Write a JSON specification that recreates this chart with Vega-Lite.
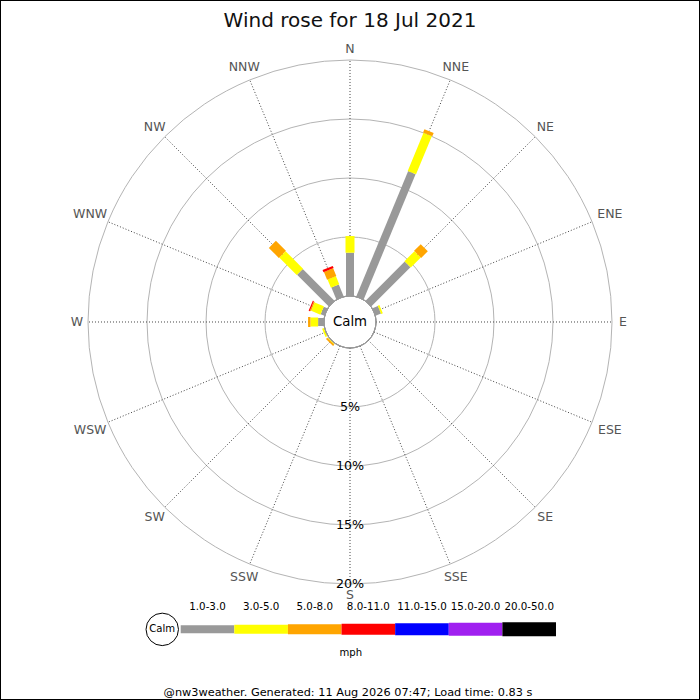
{
  "$schema": "https://vega.github.io/schema/vega-lite/v6.json",
  "width": 700,
  "height": 700,
  "padding": 0,
  "autosize": "none",
  "background": "white",
  "view": {"stroke": "#000000", "strokeWidth": 2},
  "title": {
    "text": "Wind rose for 18 Jul 2021",
    "fontSize": 20,
    "fontWeight": "normal",
    "color": "#111111",
    "anchor": "middle",
    "frame": "group",
    "offset": -47,
    "baseline": "alphabetic"
  },
  "datasets": {
    "dirs": [
      {"dir": "N", "deg": 0}, {"dir": "NNE", "deg": 22.5}, {"dir": "NE", "deg": 45}, {"dir": "ENE", "deg": 67.5},
      {"dir": "E", "deg": 90}, {"dir": "ESE", "deg": 112.5}, {"dir": "SE", "deg": 135}, {"dir": "SSE", "deg": 157.5},
      {"dir": "S", "deg": 180}, {"dir": "SSW", "deg": 202.5}, {"dir": "SW", "deg": 225}, {"dir": "WSW", "deg": 247.5},
      {"dir": "W", "deg": 270}, {"dir": "WNW", "deg": 292.5}, {"dir": "NW", "deg": 315}, {"dir": "NNW", "deg": 337.5}
    ],
    "bars": [
      {"dir": "N", "deg": 0, "band": "1.0-3.0", "pct": 3.67},
      {"dir": "N", "deg": 0, "band": "3.0-5.0", "pct": 1.41},
      {"dir": "NNE", "deg": 22.5, "band": "1.0-3.0", "pct": 11.5},
      {"dir": "NNE", "deg": 22.5, "band": "3.0-5.0", "pct": 3.5},
      {"dir": "NNE", "deg": 22.5, "band": "5.0-8.0", "pct": 0.3},
      {"dir": "NE", "deg": 45, "band": "1.0-3.0", "pct": 4.7},
      {"dir": "NE", "deg": 45, "band": "3.0-5.0", "pct": 1.2},
      {"dir": "NE", "deg": 45, "band": "5.0-8.0", "pct": 0.8},
      {"dir": "ENE", "deg": 67.5, "band": "1.0-3.0", "pct": 0.5},
      {"dir": "ENE", "deg": 67.5, "band": "3.0-5.0", "pct": 0.15},
      {"dir": "SW", "deg": 225, "band": "1.0-3.0", "pct": 0.05},
      {"dir": "SW", "deg": 225, "band": "3.0-5.0", "pct": 0.05},
      {"dir": "SW", "deg": 225, "band": "5.0-8.0", "pct": 0.15},
      {"dir": "WSW", "deg": 247.5, "band": "1.0-3.0", "pct": 0.05},
      {"dir": "WSW", "deg": 247.5, "band": "3.0-5.0", "pct": 0.15},
      {"dir": "W", "deg": 270, "band": "1.0-3.0", "pct": 0.5},
      {"dir": "W", "deg": 270, "band": "3.0-5.0", "pct": 0.65},
      {"dir": "W", "deg": 270, "band": "5.0-8.0", "pct": 0.2},
      {"dir": "WNW", "deg": 292.5, "band": "1.0-3.0", "pct": 0.35},
      {"dir": "WNW", "deg": 292.5, "band": "3.0-5.0", "pct": 0.85},
      {"dir": "WNW", "deg": 292.5, "band": "5.0-8.0", "pct": 0.1},
      {"dir": "WNW", "deg": 292.5, "band": "8.0-11.0", "pct": 0.1},
      {"dir": "NW", "deg": 315, "band": "1.0-3.0", "pct": 3.8},
      {"dir": "NW", "deg": 315, "band": "3.0-5.0", "pct": 2.1},
      {"dir": "NW", "deg": 315, "band": "5.0-8.0", "pct": 1.2},
      {"dir": "NNW", "deg": 337.5, "band": "1.0-3.0", "pct": 1.1},
      {"dir": "NNW", "deg": 337.5, "band": "3.0-5.0", "pct": 0.75},
      {"dir": "NNW", "deg": 337.5, "band": "5.0-8.0", "pct": 0.7},
      {"dir": "NNW", "deg": 337.5, "band": "8.0-11.0", "pct": 0.2}
    ],
    "rings": [
      {"ring": 5, "label": "5%"}, {"ring": 10, "label": "10%"},
      {"ring": 15, "label": "15%"}, {"ring": 20, "label": "20%"}
    ],
    "legend": [
      {"band": "1.0-3.0"}, {"band": "3.0-5.0"}, {"band": "5.0-8.0"}, {"band": "8.0-11.0"},
      {"band": "11.0-15.0"}, {"band": "15.0-20.0"}, {"band": "20.0-50.0"}
    ]
  },
  "layer": [
    {
      "layer": [
        {
          "data": {"name": "rings"},
          "mark": {"type": "arc", "filled": false, "stroke": "#b4b4b4", "strokeWidth": 1, "theta": 0, "theta2": 6.2832},
          "encoding": {
            "x": {"datum": 0, "type": "quantitative", "scale": {"domain": [-29.661, 29.661], "nice": false, "zero": false}},
            "y": {"datum": 0, "type": "quantitative", "scale": {"domain": [-32.034, 27.288], "nice": false, "zero": false}},
            "radius": {"field": "ring", "type": "quantitative", "stack": null, "scale": {"type": "linear", "domain": [0, 20], "range": [26, 262], "zero": false}}
          }
        },
        {
          "data": {"name": "dirs"},
          "transform": [
            {"calculate": "datum.deg*PI/180", "as": "a"},
            {"calculate": "2.2034*sin(datum.a)", "as": "sx"},
            {"calculate": "2.2034*cos(datum.a)", "as": "sy"},
            {"calculate": "22.2034*sin(datum.a)", "as": "ex"},
            {"calculate": "22.2034*cos(datum.a)", "as": "ey"}
          ],
          "mark": {"type": "rule", "color": "#444444", "strokeWidth": 1, "strokeDash": [1, 2]},
          "encoding": {
            "x": {"field": "sx", "type": "quantitative"},
            "y": {"field": "sy", "type": "quantitative"},
            "x2": {"field": "ex"},
            "y2": {"field": "ey"}
          }
        },
        {
          "data": {"name": "bars"},
          "transform": [
            {"stack": "pct", "groupby": ["dir"], "sort": [{"field": "band"}], "as": ["p0", "p1"]},
            {"calculate": "datum.deg*PI/180", "as": "a"},
            {"calculate": "(datum.p0+2.2034)*sin(datum.a)", "as": "bx"},
            {"calculate": "(datum.p0+2.2034)*cos(datum.a)", "as": "by"},
            {"calculate": "(datum.p1+2.2034)*sin(datum.a)", "as": "bx2"},
            {"calculate": "(datum.p1+2.2034)*cos(datum.a)", "as": "by2"}
          ],
          "mark": {"type": "rule", "strokeCap": "butt", "opacity": 1},
          "encoding": {
            "x": {"field": "bx", "type": "quantitative"},
            "y": {"field": "by", "type": "quantitative"},
            "x2": {"field": "bx2"},
            "y2": {"field": "by2"},
            "color": {
              "field": "band", "type": "nominal", "legend": null,
              "scale": {
                "domain": ["1.0-3.0", "3.0-5.0", "5.0-8.0", "8.0-11.0", "11.0-15.0", "15.0-20.0", "20.0-50.0"],
                "range": ["#999999", "#ffff00", "#ffa500", "#ff0000", "#0000ff", "#a020f0", "#000000"]
              }
            },
            "size": {
              "field": "band", "type": "ordinal", "legend": null,
              "scale": {
                "domain": ["1.0-3.0", "3.0-5.0", "5.0-8.0", "8.0-11.0", "11.0-15.0", "15.0-20.0", "20.0-50.0"],
                "range": [8, 14, 20, 23, 25, 27, 28]
              }
            }
          }
        },
        {
          "data": {"values": [{"label": "Calm"}]},
          "layer": [
            {
              "mark": {"type": "arc", "fill": "#ffffff", "stroke": "#999999", "strokeWidth": 1, "theta": 0, "theta2": 6.2832},
              "encoding": {
                "x": {"datum": 0, "type": "quantitative"},
                "y": {"datum": 0, "type": "quantitative"},
                "radius": {"datum": 0, "type": "quantitative"}
              }
            },
            {
              "mark": {"type": "text", "fontSize": 13.3, "color": "#000000", "baseline": "middle", "align": "center"},
              "encoding": {
                "x": {"datum": 0, "type": "quantitative"},
                "y": {"datum": 0, "type": "quantitative"},
                "text": {"field": "label"}
              }
            },
            {
              "mark": {"type": "point", "shape": "circle", "size": 1052, "filled": true, "fill": "#ffffff", "stroke": "#000000", "strokeWidth": 1, "opacity": 1},
              "encoding": {
                "x": {"datum": -15.91, "type": "quantitative"},
                "y": {"datum": -26.05, "type": "quantitative"}
              }
            },
            {
              "mark": {"type": "text", "fontSize": 10.1, "color": "#000000", "baseline": "middle", "align": "center"},
              "encoding": {
                "x": {"datum": -15.91, "type": "quantitative"},
                "y": {"datum": -26.05, "type": "quantitative"},
                "text": {"field": "label"}
              }
            }
          ]
        },
        {
          "data": {"name": "rings"},
          "transform": [{"calculate": "-(datum.ring+2.2034)", "as": "ly"}],
          "mark": {"type": "text", "fontSize": 12.7, "color": "#000000", "baseline": "middle", "align": "center"},
          "encoding": {
            "x": {"datum": 0, "type": "quantitative"},
            "y": {"field": "ly", "type": "quantitative"},
            "text": {"field": "label"}
          }
        },
        {
          "data": {"name": "dirs"},
          "transform": [
            {"calculate": "datum.deg*PI/180", "as": "a"},
            {"calculate": "(273 + 4.5*(length(datum.dir)-1)*abs(sin(datum.a)))/11.8", "as": "lr"},
            {"calculate": "datum.lr*sin(datum.a)", "as": "lx"},
            {"calculate": "datum.lr*cos(datum.a)", "as": "ly"}
          ],
          "mark": {"type": "text", "fontSize": 12.5, "color": "#555555", "baseline": "middle", "align": "center"},
          "encoding": {
            "x": {"field": "lx", "type": "quantitative"},
            "y": {"field": "ly", "type": "quantitative"},
            "text": {"field": "dir"}
          }
        },
        {
          "data": {"values": [{"t": "mph"}]},
          "mark": {"type": "text", "fontSize": 10.1, "color": "#000000", "baseline": "middle", "align": "center"},
          "encoding": {
            "x": {"datum": 0.06, "type": "quantitative"},
            "y": {"datum": -28.05, "type": "quantitative"},
            "text": {"field": "t"}
          }
        },
        {
          "data": {"values": [{"t": "@nw3weather. Generated: 11 Aug 2026 07:47; Load time: 0.83 s"}]},
          "mark": {"type": "text", "fontSize": 11.3, "color": "#000000", "baseline": "middle", "align": "center"},
          "encoding": {
            "x": {"datum": -0.17, "type": "quantitative"},
            "y": {"datum": -31.44, "type": "quantitative"},
            "text": {"field": "t"}
          }
        }
      ]
    },
    {
      "data": {"name": "legend"},
      "layer": [
        {
          "mark": {"type": "rule", "strokeCap": "butt"},
          "encoding": {
            "x": {
              "field": "band", "type": "nominal", "bandPosition": 0,
              "scale": {
                "type": "band",
                "domain": ["1.0-3.0", "3.0-5.0", "5.0-8.0", "8.0-11.0", "11.0-15.0", "15.0-20.0", "20.0-50.0"],
                "range": [180.7, 556], "paddingInner": 0, "paddingOuter": 0
              }
            },
            "x2": {"field": "band", "bandPosition": 1},
            "y": {"datum": -26.03, "type": "quantitative"},
            "color": {"field": "band", "type": "nominal", "legend": null},
            "size": {"field": "band", "type": "ordinal", "legend": null}
          }
        },
        {
          "mark": {"type": "text", "fontSize": 10.3, "color": "#000000", "baseline": "middle", "align": "center"},
          "encoding": {
            "x": {"field": "band", "type": "nominal", "bandPosition": 0.5},
            "y": {"datum": -24.15, "type": "quantitative"},
            "text": {"field": "band"}
          }
        }
      ]
    }
  ],
  "resolve": {"scale": {"x": "independent"}},
  "config": {
    "font": "DejaVu Sans",
    "axis": {"disable": true}
  }
}
